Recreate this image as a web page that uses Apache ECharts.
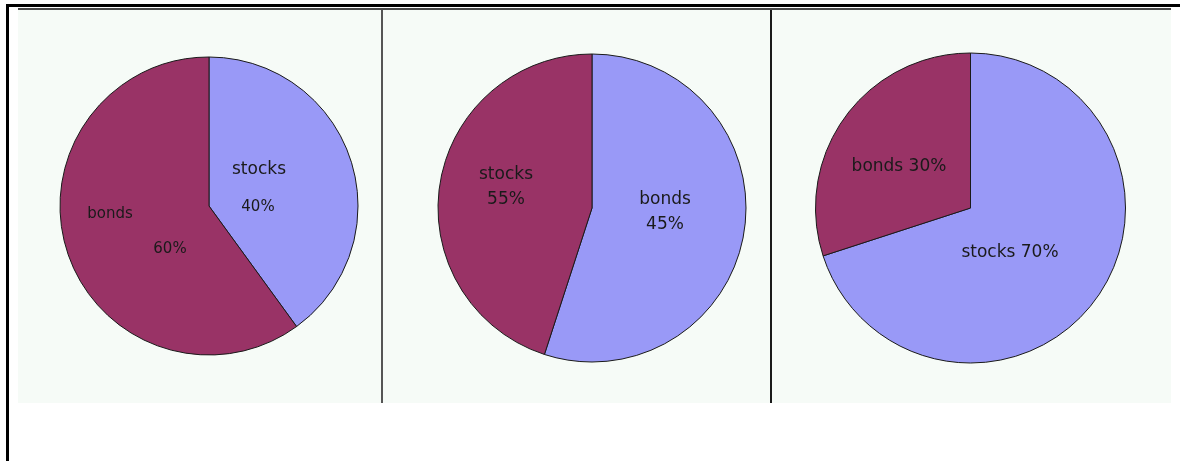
<!DOCTYPE html>
<html>
<head>
<meta charset="utf-8">
<script src="https://cdn.jsdelivr.net/npm/echarts@6/dist/echarts.min.js"></script>
<style>
  html, body { margin: 0; padding: 0; background: #fff; }
  #chart { width: 1180px; height: 461px; }
</style>
</head>
<body>
<div id="chart"></div>
<script>
// values as printed on each pie
const categories = ['stocks', 'bonds'];
const leftPct = [40, 60];
const middlePct = [55, 45];
// the middle pie's slices don't match its labels: maroon "stocks" covers ~45% of the disc
const middleDrawn = [45, 55];
const rightPct = [70, 30];

const MAROON = '#993366';
const LAVENDER = '#9999f7';
const INK = '#1a1a1a';

function pieSeries(center, radius, items) {
    return {
        type: 'pie',
        center: center,
        radius: radius,
        startAngle: 90,
        clockwise: true,
        silent: true,
        animation: false,
        label: { show: false },
        labelLine: { show: false },
        emphasis: { disabled: true },
        itemStyle: { borderColor: INK, borderWidth: 1 },
        data: items
    };
}

function slice(name, value, color) {
    return { name: name, value: value, itemStyle: { color: color } };
}

function txt(x, y, s, size) {
    return {
        type: 'text', x: x, y: y, z: 10, silent: true,
        style: {
            text: s, fill: INK, font: size + 'px "DejaVu Sans"',
            align: 'center', verticalAlign: 'middle',
            textAlign: 'center', textVerticalAlign: 'middle'
        }
    };
}

function rect(x, y, w, h, fill, z) {
    return { type: 'rect', z: z, silent: true, shape: { x: x, y: y, width: w, height: h }, style: { fill: fill } };
}

const myChart = echarts.init(document.getElementById('chart'));

myChart.setOption({
    backgroundColor: '#ffffff',
    animation: false,
    graphic: [
        rect(18, 10, 1153, 393, '#f6fbf7', -10),
        rect(6, 4, 1174, 3, '#000000', -5),
        rect(6, 4, 3, 457, '#000000', -5),
        rect(18, 8, 1153, 2, '#4a4a4a', -5),
        rect(381, 10, 2, 393, '#555555', -5),
        rect(770, 10, 2, 393, '#1a1a1a', -5),

        // left pie
        txt(259, 170, categories[0], 17),
        txt(258, 207, leftPct[0] + '%', 15),
        txt(110, 214, categories[1], 15),
        txt(170, 249, leftPct[1] + '%', 15),

        // middle pie
        txt(506, 175, categories[0], 17),
        txt(506, 200, middlePct[0] + '%', 17),
        txt(665, 200, categories[1], 17),
        txt(665, 225, middlePct[1] + '%', 17),

        // right pie
        txt(899, 167, categories[1] + ' ' + rightPct[1] + '%', 17),
        txt(1010, 253, categories[0] + ' ' + rightPct[0] + '%', 17)
    ],
    series: [
        pieSeries([209, 206], 149, [
            slice(categories[0], leftPct[0], LAVENDER),
            slice(categories[1], leftPct[1], MAROON)
        ]),
        pieSeries([592, 208], 154, [
            slice(categories[1], middleDrawn[1], LAVENDER),
            slice(categories[0], middleDrawn[0], MAROON)
        ]),
        pieSeries([970.5, 208], 155, [
            slice(categories[0], rightPct[0], LAVENDER),
            slice(categories[1], rightPct[1], MAROON)
        ])
    ]
});
</script>
</body>
</html>
